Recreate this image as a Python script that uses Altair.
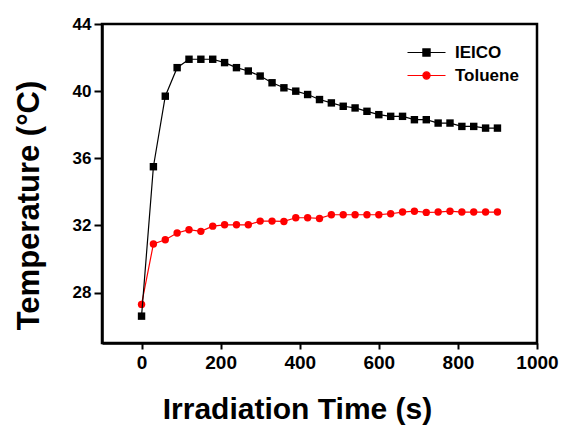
import altair as alt
import pandas as pd

times = [0, 30, 60, 90, 120, 150, 180, 210, 240, 270, 300, 330, 360, 390, 420, 450,
         480, 510, 540, 570, 600, 630, 660, 690, 720, 750, 780, 810, 840, 870, 900]
ieico = [26.6, 35.5, 39.7, 41.4, 41.9, 41.9, 41.9, 41.7, 41.4, 41.2, 40.9, 40.5, 40.2, 40.0,
         39.8, 39.5, 39.3, 39.1, 39.0, 38.8, 38.6, 38.5, 38.5, 38.3, 38.3, 38.1, 38.1, 37.9,
         37.9, 37.8, 37.8]
toluene = [27.3, 30.9, 31.15, 31.55, 31.75, 31.65, 31.96, 32.04, 32.04, 32.04, 32.26, 32.26,
           32.24, 32.46, 32.46, 32.42, 32.64, 32.64, 32.64, 32.64, 32.64, 32.7, 32.8, 32.85,
           32.78, 32.8, 32.85, 32.8, 32.8, 32.8, 32.8]
series_names = ["IEICO", "Toluene"]
series_colors = ["#000000", "#ff0000"]
x_ticks = [0, 200, 400, 600, 800, 1000]
y_ticks = [28, 32, 36, 40, 44]

rows = []
for t, v in zip(times, ieico):
    rows.append({"Time": t, "Temp": v, "Series": "IEICO"})
for t, v in zip(times, toluene):
    rows.append({"Time": t, "Temp": v, "Series": "Toluene"})
df = pd.DataFrame(rows)

FONT = "Liberation Sans"

x_enc = alt.X("Time:Q", scale=alt.Scale(domain=[-100, 1000], nice=False, zero=False),
              axis=alt.Axis(values=x_ticks, format="d", title="Irradiation Time (s)", titleFontSize=30,
                            titleFont=FONT, titleFontWeight="bold", titleX=195, titleY=66,
                            titleBaseline="middle", titleAlign="center",
                            labelFontSize=19, labelFont=FONT, labelFontWeight="bold",
                            labelColor="#000", labelPadding=4, tickSize=6, tickWidth=2,
                            tickColor="#000", domainColor="#000", domainWidth=2.5,
                            grid=False, labelFlush=False))
y_enc = alt.Y("Temp:Q", scale=alt.Scale(domain=[25, 44], nice=False, zero=False),
              axis=alt.Axis(values=y_ticks, format="d", title="Temperature (°C)", titleFontSize=31,
                            titleFont=FONT, titleFontWeight="bold", titleX=-73, titleY=181,
                            titleAngle=-90, titleBaseline="middle", titleAlign="center",
                            labelFontSize=17, labelFont=FONT, labelFontWeight="bold",
                            labelColor="#000", labelPadding=3, tickSize=8, tickWidth=2,
                            tickColor="#000", domainColor="#000", domainWidth=2.5,
                            grid=False, labelFlush=False))

color_scale = alt.Scale(domain=series_names, range=series_colors)
series_order = alt.Order("Time:Q")

base = alt.Chart(df)

lines = base.mark_line(strokeWidth=1.2).encode(
    x=x_enc, y=y_enc,
    color=alt.Color("Series:N", scale=color_scale, legend=None),
    order=series_order,
)
tol_pts = base.transform_filter(alt.datum.Series == "Toluene").mark_circle(size=55, opacity=1).encode(
    x=x_enc, y=y_enc,
    color=alt.Color("Series:N", scale=color_scale, legend=None),
)
iei_pts = base.transform_filter(alt.datum.Series == "IEICO").mark_square(size=55, opacity=1).encode(
    x=x_enc, y=y_enc,
    color=alt.Color("Series:N", scale=color_scale, legend=None),
)

paths = [
    "M-4.75,0H4.75M-0.9,-0.9H0.9V0.9H-0.9Z",
    "M-4.75,0H4.75M0.9,0A0.9,0.9,0,1,1,-0.9,0A0.9,0.9,0,1,1,0.9,0Z",
]
leg = alt.Legend(title=None, orient="none", legendX=316, legendY=20, padding=0,
                 labelFontSize=17, labelFont=FONT, labelFontWeight="bold", labelColor="#000",
                 labelOffset=20, rowPadding=5, symbolOpacity=1, symbolStrokeWidth=1.2,
                 symbolSize=64)
legend_layer = base.mark_point(filled=True, opacity=0, strokeWidth=1.2, size=64).encode(
    x=x_enc, y=y_enc,
    color=alt.Color("Series:N", scale=color_scale, legend=leg),
    stroke=alt.Stroke("Series:N", scale=color_scale, legend=leg),
    shape=alt.Shape("Series:N", scale=alt.Scale(domain=series_names, range=paths), legend=leg),
)

red_line = lines.transform_filter(alt.datum.Series == "Toluene")
black_line = lines.transform_filter(alt.datum.Series == "IEICO")

chart = alt.layer(legend_layer, red_line, tol_pts, black_line, iei_pts).properties(
    width=435, height=319,
    autosize=alt.AutoSizeParams(type="none"),
    padding={"left": 102, "top": 24, "right": 26, "bottom": 82},
    background="white",
).configure_view(stroke="#000", strokeWidth=2.5)

chart.save("out.html", embed_options={"renderer": "svg", "actions": False})
